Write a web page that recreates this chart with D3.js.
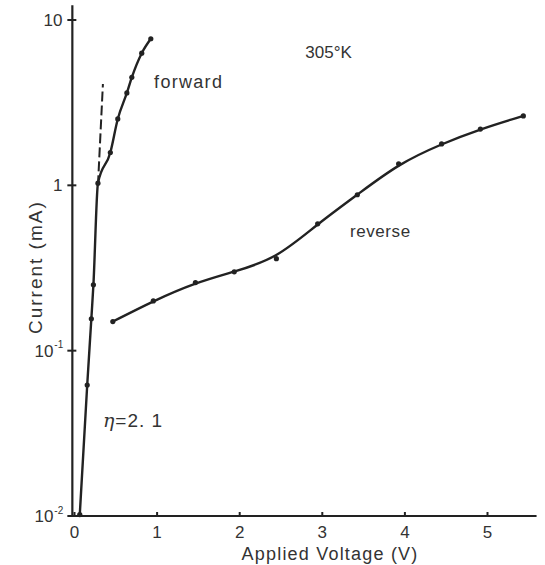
<!DOCTYPE html>
<html>
<head>
<meta charset="utf-8">
<script src="https://cdn.jsdelivr.net/npm/d3@7"></script>
<style>
  body { margin: 0; background: #fff; }
  text { font-family: "Liberation Sans", Arial, sans-serif; fill: #333; }
</style>
</head>
<body>
<div id="app"></div>
<script>
const width = 545,
    height = 565;

// forward bias: applied voltage (V) / current (mA)
const forwardV = [0.07, 0.16, 0.21, 0.235, 0.29, 0.44, 0.53, 0.64, 0.70, 0.82, 0.93];
const forwardI = [0.0102, 0.062, 0.156, 0.25, 1.03, 1.58, 2.52, 3.62, 4.5, 6.3, 7.7];

// dashed extrapolation of the low-voltage slope
const dashedV = [0.29, 0.35];
const dashedI = [1.0, 4.1];

// reverse bias
const reverseV = [0.47, 0.96, 1.47, 1.94, 2.45, 2.95, 3.43, 3.93, 4.45, 4.92, 5.44];
const reverseI = [0.150, 0.200, 0.258, 0.30, 0.36, 0.585, 0.877, 1.35, 1.78, 2.19, 2.63];

const xTicks = [0, 1, 2, 3, 4, 5];
const yTicks = [0.01, 0.1, 1, 10];
const yTickBase = ["10", "10", "1", "10"];
const yTickExp = ["-2", "-1", "", ""];

const zip = (a, b) => a.map((v, i) => ({v, i: b[i]}));
const forward = zip(forwardV, forwardI);
const dashed = zip(dashedV, dashedI);
const reverse = zip(reverseV, reverseI);

const x = d3.scaleLinear().domain([0, 5]).range([74, 487]);
const y = d3.scaleLog().domain([0.01, 10]).range([516, 20]);

const svg = d3.select("#app")
    .append("svg")
    .attr("width", width)
    .attr("height", height);

const ink = "#222";

//X-Axis, ticks pointing up
const xAxis = svg.append("g")
    .attr("transform", `translate(0, ${y(0.01)})`)
    .call(d3.axisBottom(x).tickValues(xTicks).tickFormat(d3.format("d"))
        .tickSizeInner(-4).tickSizeOuter(0).tickPadding(10));
xAxis.select(".domain").remove();
xAxis.selectAll(".tick line").attr("stroke", ink).attr("stroke-width", 2);
xAxis.selectAll(".tick text")
    .attr("font-size", 17)
    .attr("font-family", "Liberation Sans, Arial, sans-serif")
    .attr("fill", "#333");
svg.append("line")
    .attr("x1", x(-0.02)).attr("x2", x(5.6))
    .attr("y1", y(0.01)).attr("y2", y(0.01))
    .attr("stroke", ink).attr("stroke-width", 2.2);

//Y-Axis, ticks crossing the line
svg.append("line")
    .attr("x1", x(-0.02)).attr("x2", x(-0.02))
    .attr("y1", y(0.01) + 1).attr("y2", y(12.3))
    .attr("stroke", ink).attr("stroke-width", 2.2);

const yt = svg.append("g").selectAll("g.ytick")
    .data(yTicks).enter()
    .append("g")
    .attr("transform", d => `translate(${x(-0.02)}, ${y(d)})`);
yt.append("line")
    .attr("x1", -5).attr("x2", 4)
    .attr("stroke", ink).attr("stroke-width", 2);
yt.append("text")
    .attr("x", (d, i) => yTickExp[i] ? -19 : -10)
    .attr("dy", "0.36em")
    .attr("text-anchor", "end")
    .attr("font-size", 17)
    .text((d, i) => yTickBase[i]);
yt.filter((d, i) => yTickExp[i] !== "")
    .append("text")
    .attr("x", -18)
    .attr("dy", "-0.25em")
    .attr("font-size", 10)
    .text(d => yTickExp[yTicks.indexOf(d)]);

//Axis titles
svg.append("text")
    .attr("x", x(3.1))
    .attr("y", 560)
    .attr("text-anchor", "middle")
    .attr("font-size", 18)
    .attr("letter-spacing", 1.2)
    .text("Applied Voltage (V)");

svg.append("text")
    .attr("transform", `translate(42, ${y(0.32)}) rotate(-90)`)
    .attr("text-anchor", "middle")
    .attr("font-size", 19)
    .attr("letter-spacing", 2)
    .text("Current  (mA)");

//Curves
svg.append("path")
    .datum(forward)
    .attr("d", d3.line().x(d => x(d.v)).y(d => y(d.i)).curve(d3.curveMonotoneX))
    .attr("fill", "none")
    .attr("stroke", ink)
    .attr("stroke-width", 2.4);

// reverse curve is a smoothed fit, not strictly through every point
svg.append("path")
    .datum(reverse)
    .attr("d", d3.line().x(d => x(d.v)).y(d => y(d.i)).curve(d3.curveBasis))
    .attr("fill", "none")
    .attr("stroke", ink)
    .attr("stroke-width", 2.4);

svg.append("path")
    .datum(dashed)
    .attr("d", d3.line().x(d => x(d.v)).y(d => y(d.i)))
    .attr("fill", "none")
    .attr("stroke", ink)
    .attr("stroke-width", 2)
    .attr("stroke-dasharray", "10,4");

svg.append("g").selectAll("circle")
    .data(forward.concat(reverse)).enter()
    .append("circle")
    .attr("r", 2.6)
    .attr("cx", d => x(d.v))
    .attr("cy", d => y(d.i))
    .attr("fill", ink);

//Labels
svg.append("text")
    .attr("x", x(2.8)).attr("y", y(5.9))
    .attr("font-size", 17)
    .text("305°K");

svg.append("text")
    .attr("x", x(0.97)).attr("y", y(3.9))
    .attr("font-size", 18)
    .attr("letter-spacing", 1.3)
    .text("forward");

svg.append("text")
    .attr("x", x(3.34)).attr("y", y(0.486))
    .attr("font-size", 17)
    .attr("letter-spacing", 0.6)
    .text("reverse");

svg.append("text")
    .attr("x", x(0.35)).attr("y", y(0.0345))
    .attr("font-size", 19)
    .attr("letter-spacing", 1)
    .html('<tspan font-family="DejaVu Serif" font-style="italic">η</tspan>=2. 1');
</script>
</body>
</html>
